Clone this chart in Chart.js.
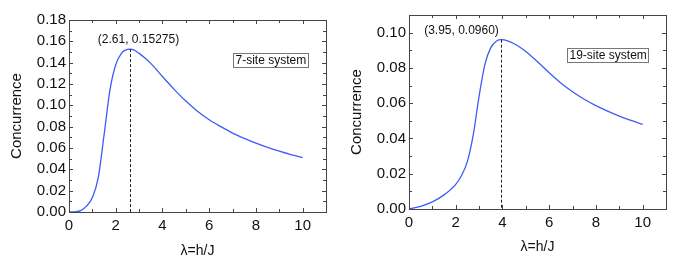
<!DOCTYPE html>
<html>
<head>
<meta charset="utf-8">
<script src="https://cdn.jsdelivr.net/npm/chart.js@4/dist/chart.umd.min.js"></script>
<style>
    html, body { margin: 0; padding: 0; background: #fff; }
    .panel { position: absolute; top: 0; height: 264px; }
    #izq { left: 0; width: 340px; }
    #der { left: 340px; width: 339px; }
</style>
</head>
<body>
<div class="panel" id="izq"><canvas id="grafico-7" width="340" height="264"></canvas></div>
<div class="panel" id="der"><canvas id="grafico-19" width="339" height="264"></canvas></div>
<script>
// Curva del sistema de 7 sitios.
const LAMBDA_7 = [0, 0.25, 0.5, 0.75, 1.0, 1.25, 1.5, 1.75, 2.0, 2.25, 2.5, 2.61, 2.75, 3.0, 3.25, 3.5,
    4.0, 4.5, 5.0, 5.5, 6.0, 6.5, 7.0, 7.5, 8.0, 8.5, 9.0, 9.5, 10.0];
const CONC_7 = [0, 0.0002, 0.0013, 0.0055, 0.0135, 0.032, 0.072, 0.114, 0.138, 0.149, 0.1525, 0.15275,
    0.1522, 0.1487, 0.1443, 0.1393, 0.127, 0.115, 0.104, 0.0945, 0.0865, 0.080, 0.074, 0.069, 0.0645,
    0.0605, 0.057, 0.0538, 0.051];
const PICO_7 = [2.61, 0.15275];
const ETIQUETA_PICO_7 = '(2.61, 0.15275)';
const LEYENDA_7 = '7-site system';
const TICKS_Y_7 = { max: 0.18, paso: 0.01 };

// Curva del sistema de 19 sitios.
const LAMBDA_19 = [0, 0.5, 1.0, 1.5, 2.0, 2.25, 2.5, 2.75, 3.0, 3.25, 3.5, 3.75, 3.95, 4.25, 4.5,
    4.75, 5.0, 5.5, 6.0, 6.5, 7.0, 7.5, 8.0, 8.5, 9.0, 9.5, 10.0];
const CONC_19 = [0, 0.0015, 0.004, 0.008, 0.014, 0.019, 0.027, 0.042, 0.064, 0.082, 0.0915, 0.0953,
    0.0960, 0.0952, 0.0937, 0.0917, 0.0893, 0.0835, 0.0773, 0.0715, 0.0665, 0.0622, 0.0586, 0.0555,
    0.0527, 0.0502, 0.048];
const PICO_19 = [3.95, 0.0960];
const ETIQUETA_PICO_19 = '(3.95, 0.0960)';
const LEYENDA_19 = '19-site system';
const TICKS_Y_19 = { max: 0.11, paso: 0.01 };

const TICKS_X = { max: 11, paso: 1 };
const TITULO_X = 'λ=h/J';
const TITULO_Y = 'Concurrence';

const FUENTE = "'Liberation Sans', Arial, sans-serif";
const AZUL = '#3d5cf5';
const MARCO = '#444';

// Marco con marcas hacia dentro en los cuatro lados, línea discontinua en el pico,
// etiqueta del pico y recuadro con el nombre del sistema.
const marcoPlugin = {
    id: 'marco',
    afterDatasetsDraw(chart, args, opts) {
        const { ctx, chartArea: a, scales: { x, y } } = chart;
        ctx.save();
        ctx.strokeStyle = MARCO;
        ctx.lineWidth = 1;
        ctx.strokeRect(Math.round(a.left) + 0.5, Math.round(a.top) + 0.5,
            Math.round(a.right - a.left), Math.round(a.bottom - a.top));

        ctx.beginPath();
        x.ticks.forEach((t) => {
            if (t.value <= x.min || t.value >= x.max) return;
            const px = Math.round(x.getPixelForValue(t.value)) + 0.5;
            const largo = t.label ? 4 : 3;
            ctx.moveTo(px, a.bottom); ctx.lineTo(px, a.bottom - largo);
            ctx.moveTo(px, a.top); ctx.lineTo(px, a.top + largo);
        });
        y.ticks.forEach((t) => {
            if (t.value <= y.min + 1e-9 || t.value >= y.max - 1e-9) return;
            const py = Math.round(y.getPixelForValue(t.value)) + 0.5;
            const largo = t.label ? 4 : 3;
            ctx.moveTo(a.left, py); ctx.lineTo(a.left + largo, py);
            ctx.moveTo(a.right, py); ctx.lineTo(a.right - largo, py);
        });
        ctx.stroke();

        // Línea discontinua desde el máximo hasta el eje.
        const [px, py] = opts.pico;
        const xp = Math.round(x.getPixelForValue(px)) + 0.5;
        ctx.strokeStyle = '#222';
        ctx.setLineDash([3, 2]);
        ctx.beginPath();
        ctx.moveTo(xp, y.getPixelForValue(py));
        ctx.lineTo(xp, y.getPixelForValue(0));
        ctx.stroke();
        ctx.setLineDash([]);

        ctx.fillStyle = '#111';
        ctx.font = '12px ' + FUENTE;
        ctx.textAlign = 'center';
        ctx.textBaseline = 'middle';
        ctx.fillText(opts.etiqueta, xp + opts.desfase, y.getPixelForValue(py) - 9);

        // Recuadro de la leyenda.
        const ancho = ctx.measureText(opts.leyenda).width + 4;
        const bx = Math.round(a.right - 18 - ancho) + 0.5;
        const by = Math.round(a.top + 33) + 0.5;
        ctx.strokeStyle = '#777';
        ctx.strokeRect(bx, by, Math.round(ancho), 14);
        ctx.textAlign = 'left';
        ctx.fillText(opts.leyenda, bx + 2, by + 7.5);
        ctx.restore();
    },
};

function crear(id, lambdas, valores, ejeY, extra, layout) {
    new Chart(document.getElementById(id), {
        type: 'line',
        data: {
            datasets: [{
                data: lambdas.map((l, i) => ({ x: l, y: valores[i] })),
                borderColor: AZUL,
                borderWidth: 1.3,
                pointRadius: 0,
                cubicInterpolationMode: 'monotone',
            }],
        },
        options: {
            responsive: false,
            animation: false,
            layout: { padding: { top: layout.top, right: layout.right, left: 0, bottom: 0 } },
            plugins: { legend: { display: false }, tooltip: { enabled: false }, marco: extra },
            scales: {
                x: {
                    type: 'linear',
                    min: 0,
                    max: TICKS_X.max,
                    grid: { display: false, drawTicks: false },
                    border: { display: false },
                    afterFit: (s) => { s.height = layout.alturaX; },
                    ticks: {
                        stepSize: TICKS_X.paso,
                        padding: 5,
                        autoSkip: false,
                        maxRotation: 0,
                        color: '#111',
                        font: { family: FUENTE, size: 15 },
                        callback: (v) => (v % 2 === 0 && v <= 10 ? String(v) : ''),
                    },
                    title: {
                        display: true,
                        text: TITULO_X,
                        color: '#111',
                        font: { family: FUENTE, size: 14 },
                        padding: { top: 0, bottom: layout.tituloX },
                    },
                },
                y: {
                    min: 0,
                    max: ejeY.max,
                    grid: { display: false, drawTicks: false },
                    border: { display: false },
                    afterFit: (s) => { s.width = 69; },
                    ticks: {
                        stepSize: ejeY.paso,
                        padding: 3,
                        autoSkip: false,
                        color: '#111',
                        font: { family: FUENTE, size: 15 },
                        callback: (v) => (Math.round(v * 100) % 2 === 0 ? v.toFixed(2) : ''),
                    },
                    title: {
                        display: true,
                        text: TITULO_Y,
                        color: '#111',
                        font: { family: FUENTE, size: 15 },
                        padding: { top: 8, bottom: 0 },
                    },
                },
            },
        },
        plugins: [marcoPlugin],
    });
}

crear('grafico-7', LAMBDA_7, CONC_7, TICKS_Y_7,
    { pico: PICO_7, etiqueta: ETIQUETA_PICO_7, leyenda: LEYENDA_7, desfase: 8 },
    { top: 20, right: 14, alturaX: 52, tituloX: 4 });
crear('grafico-19', LAMBDA_19, CONC_19, TICKS_Y_19,
    { pico: PICO_19, etiqueta: ETIQUETA_PICO_19, leyenda: LEYENDA_19, desfase: -40 },
    { top: 15, right: 13, alturaX: 55, tituloX: 8 });
</script>
</body>
</html>
